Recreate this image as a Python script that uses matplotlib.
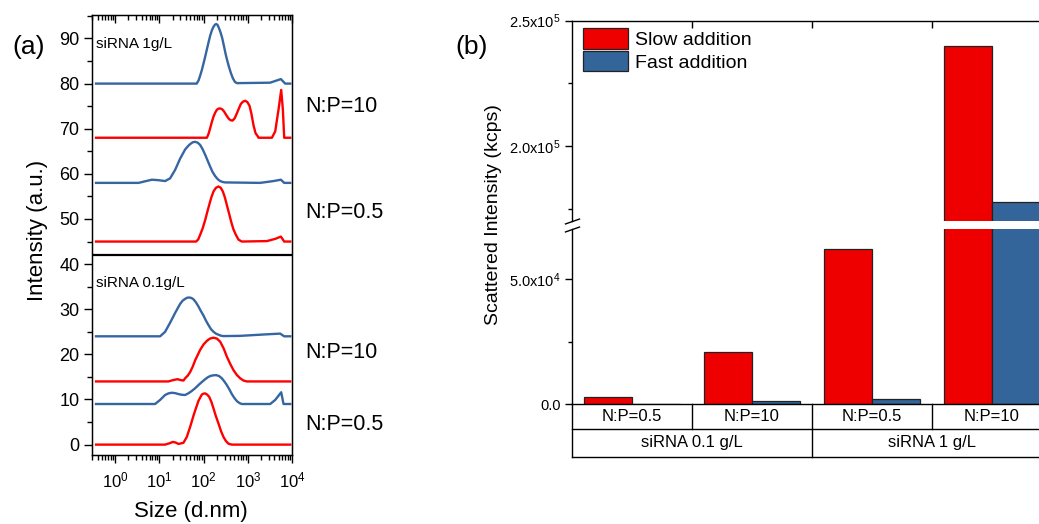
import matplotlib
matplotlib.use('Agg')
import matplotlib.pyplot as plt
import numpy as np
from matplotlib.ticker import MultipleLocator, LogLocator, NullFormatter

plt.rcParams['font.family'] = ['Liberation Sans', 'DejaVu Sans']
plt.rcParams['mathtext.default'] = 'regular'

# ---- panel (a): DLS size distributions (size in nm, intensity offset) ----
# siRNA 1 g/L, N:P=10
size_hi10_fast = [0.37, 70, 77, 84, 92, 100, 109, 119, 130, 141, 154, 168, 181, 193, 207, 221,
                  241, 264, 288, 313, 341, 373, 413, 459, 510, 566, 3200, 4550, 5600, 7000, 9100]
int_hi10_fast = [80, 80, 80.7, 81.8, 83.1, 84.5, 86.0, 87.6, 89.2, 90.6, 91.8, 92.6, 93.05, 93.2,
                 93.0, 92.4, 91.4, 90.1, 88.4, 86.7, 85.2, 83.8, 82.4, 81.2, 80.4, 80.1,
                 80.2, 80.7, 81.0, 80.0, 80.0]
size_hi10_slow = [0.37, 119, 130, 141, 154, 168, 184, 200, 218, 238, 264, 292, 327, 366, 405,
                  451, 505, 566, 630, 697, 780, 873, 980, 1093, 1210, 1345, 1500, 1660, 1750,
                  3510, 4170, 4950, 5700, 6220, 6660, 9100]
int_hi10_slow = [68, 68, 68.9, 70.1, 71.5, 72.7, 73.6, 74.2, 74.45, 74.5, 74.3, 73.8, 73.0, 72.3,
                 71.9, 71.8, 72.3, 73.4, 74.5, 75.5, 76.0, 76.2, 75.9, 75.1, 73.3, 70.8, 69.0,
                 68.4, 68, 68, 69.4, 74.2, 78.6, 74.2, 68, 68]
# siRNA 1 g/L, N:P=0.5
size_hi05_fast = [0.37, 3.4, 5.0, 6.8, 9.5, 13.5, 17.5, 22.8, 29.6, 38.3, 44, 49.8, 57, 64.6, 74,
                  83.8, 96, 109, 124, 141, 160, 183, 210, 238, 270, 308, 1900, 2700, 3800, 5600,
                  6660, 9100]
int_hi05_fast = [58, 58, 58.4, 58.7, 58.6, 58.4, 59.0, 60.9, 63.4, 65.4, 66.1, 66.6, 67.0, 67.1,
                 66.9, 66.4, 65.4, 64.2, 62.9, 61.6, 60.4, 59.5, 58.8, 58.4, 58.2, 58.1,
                 58, 58.2, 58.4, 58.7, 58, 58]
size_hi05_slow = [0.37, 68, 76, 83.8, 96, 109, 121, 134, 150, 168, 190, 217, 245, 273, 303, 336,
                  378, 421, 470, 537, 620, 735, 2700, 4200, 5600, 6660, 9100]
int_hi05_slow = [45, 45, 45.5, 46.5, 48.0, 49.8, 51.5, 53.1, 54.8, 56.1, 56.9, 57.2, 56.9, 56.1, 54.8,
                 53.1, 51.2, 49.4, 47.8, 46.5, 45.4, 45, 45.1, 45.6, 46.1, 45, 45]
# siRNA 0.1 g/L, N:P=10
size_lo10_fast = [0.37, 10.4, 13.5, 17.5, 22.8, 29.6, 33.7, 38.3, 42.5, 47.2, 53, 59.2, 67.5,
                  76.7, 87, 99.6, 113, 129, 147, 168, 190, 217, 245, 282, 673, 2270, 5400,
                  6660, 9100]
int_lo10_fast = [24, 24, 25.0, 27.0, 29.2, 31.2, 31.9, 32.3, 32.55, 32.6, 32.5, 32.2, 31.5,
                 30.6, 29.6, 28.6, 27.5, 26.5, 25.6, 25.0, 24.6, 24.35, 24.15, 24.05, 24.1,
                 24.4, 24.6, 24, 24]
size_lo10_slow = [0.37, 16.1, 20.5, 25.7, 30.5, 35.1, 38.3, 44, 49.8, 57, 64.6, 74, 83.8, 100,
                  119, 140, 168, 200, 238, 285, 336, 400, 475, 570, 673, 800, 953, 9100]
int_lo10_slow = [14, 14, 14.3, 14.5, 14.3, 14.2, 14.7, 15.3, 16.1, 17.3, 18.7, 19.9, 21.0, 22.2,
                 23.0, 23.5, 23.7, 23.5, 22.8, 21.3, 19.5, 17.9, 16.5, 15.4, 14.7, 14.2, 14, 14]
# siRNA 0.1 g/L, N:P=0.5
size_lo05_fast = [0.37, 8.0, 10.4, 13.5, 16, 19.2, 23, 27.1, 32, 38.3, 46, 54.3, 64.6, 76.7, 92,
                  109, 124, 141, 165, 193, 224, 259, 295, 336, 385, 436, 500, 566, 650, 735,
                  3213, 4170, 5700, 6430, 9100]
int_lo05_fast = [9, 9, 9.9, 11.0, 11.35, 11.5, 11.4, 11.2, 11.05, 11.0, 11.4, 11.9, 12.5, 13.2,
                 13.9, 14.5, 14.9, 15.2, 15.35, 15.4, 15.2, 14.7, 14.0, 13.2, 12.2, 11.2, 10.3,
                 9.65, 9.2, 9, 9, 9.9, 11.6, 9, 9]
size_lo05_slow = [0.37, 13.5, 17, 20.2, 23.5, 27.1, 35.1, 41.8, 49.8, 61.3, 76.7, 91.5, 100, 109,
                  120, 134, 150, 168, 190, 217, 248, 282, 320, 366, 436, 9100]
int_lo05_slow = [0, 0, 0.3, 0.6, 0.45, 0.15, 0.4, 1.7, 3.95, 6.9, 9.7, 11.1, 11.3, 11.35,
                 11.1, 10.6, 9.5, 8.0, 6.3, 4.7, 3.0, 1.7, 0.8, 0.2, 0, 0]

# ---- panel (b): scattered intensity (kcps) ----
np_labels = ['N:P=0.5', 'N:P=10', 'N:P=0.5', 'N:P=10']
conc_labels = ['siRNA 0.1 g/L', 'siRNA 1 g/L']
slow_add = [2.8e3, 2.1e4, 6.2e4, 2.40e5]
fast_add = [0.3e3, 1.2e3, 2.1e3, 1.775e5]

RED_LINE = '#FF0000'
BLUE_LINE = '#3566A2'
RED_BAR = '#EE0000'
BLUE_BAR = '#33659A'

W, H = 1039, 524
fig = plt.figure(figsize=(W / 100, H / 100), dpi=100)


def fx(x):
    return x / W


def fy(y):
    return 1 - y / H


# ================= panel (a) =================
ax = fig.add_axes([fx(92), fy(455), (292 - 92) / W, (455 - 15) / H])
curves = [
    (size_hi10_fast, int_hi10_fast, BLUE_LINE),
    (size_hi10_slow, int_hi10_slow, RED_LINE),
    (size_hi05_fast, int_hi05_fast, BLUE_LINE),
    (size_hi05_slow, int_hi05_slow, RED_LINE),
    (size_lo10_fast, int_lo10_fast, BLUE_LINE),
    (size_lo10_slow, int_lo10_slow, RED_LINE),
    (size_lo05_fast, int_lo05_fast, BLUE_LINE),
    (size_lo05_slow, int_lo05_slow, RED_LINE),
]
for s, v, c in curves:
    ax.plot(s, v, color=c, lw=1.7, solid_joinstyle='round')
ax.set_xscale('log')
ax.set_xlim(0.3, 1e4)
ax.set_ylim(-2.3, 95.2)
ax.axhline(42, color='k', lw=1.6)
ax.yaxis.set_major_locator(MultipleLocator(10))
ax.yaxis.set_minor_locator(MultipleLocator(5))
ax.xaxis.set_major_locator(LogLocator(base=10, numticks=12))
ax.xaxis.set_minor_locator(LogLocator(base=10, subs=np.arange(2, 10), numticks=12))
ax.xaxis.set_minor_formatter(NullFormatter())
ax.tick_params(which='major', direction='out', length=6, width=1, labelsize=13, pad=3)
ax.tick_params(which='minor', direction='out', length=3.5, width=1)
ax.tick_params(axis='x', labelsize=12, pad=5)
for sp in ax.spines.values():
    sp.set_linewidth(1.0)

axt = ax.twiny()
axt.set_xscale('log')
axt.set_xlim(ax.get_xlim())
axt.xaxis.set_major_locator(LogLocator(base=10, numticks=12))
axt.xaxis.set_minor_locator(LogLocator(base=10, subs=np.arange(2, 10), numticks=12))
axt.tick_params(which='major', direction='in', length=6, width=1, labeltop=False)
axt.tick_params(which='minor', direction='in', length=3.5, width=1)
axt.xaxis.set_minor_formatter(NullFormatter())

ax.text(0.02, 0.935, 'siRNA 1g/L', transform=ax.transAxes, fontsize=11, va='center')
ax.text(0.02, 0.39, 'siRNA 0.1g/L', transform=ax.transAxes, fontsize=11, va='center')

fig.text(fx(29), fy(47), '(a)', fontsize=19, ha='center', va='center')
fig.text(fx(37), fy(230), 'Intensity (a.u.)', rotation=90, fontsize=16, ha='center', va='center')
fig.text(fx(191), fy(512), 'Size (d.nm)', fontsize=16, ha='center', va='center')
for txt, yy in [('N:P=10', 107), ('N:P=0.5', 213), ('N:P=10', 352), ('N:P=0.5', 424)]:
    fig.text(fx(305), fy(yy), txt, fontsize=15.5, ha='left', va='center')

# ================= panel (b) =================
left_b, right_b = 572.3, 1051.5
ax_lo = fig.add_axes([fx(left_b), fy(404.3), (right_b - left_b) / W, (404.3 - 228.9) / H])
ax_hi = fig.add_axes([fx(left_b), fy(221.2), (right_b - left_b) / W, (221.2 - 20.7) / H])
xpos = np.arange(len(np_labels))
for a in (ax_lo, ax_hi):
    a.bar(xpos - 0.2, slow_add, 0.4, color=RED_BAR, edgecolor='#222222', lw=0.9,
          label='Slow addition')
    a.bar(xpos + 0.2, fast_add, 0.4, color=BLUE_BAR, edgecolor='#222222', lw=0.9,
          label='Fast addition')
    a.set_xlim(-0.5, 3.5)
    for sp in a.spines.values():
        sp.set_linewidth(1.0)
ax_lo.set_ylim(0, 7e4)
ax_hi.set_ylim(1.7e5, 2.5e5)
ax_lo.spines['top'].set_visible(False)
ax_hi.spines['bottom'].set_visible(False)

ax_lo.set_yticks([0, 5e4], ['0.0', r'5.0x10$^{4}$'])
ax_lo.set_yticks([2.5e4], minor=True)
ax_hi.set_yticks([2.0e5, 2.5e5], [r'2.0x10$^{5}$', r'2.5x10$^{5}$'])
ax_hi.set_yticks([1.75e5, 2.25e5], minor=True)
for a in (ax_lo, ax_hi):
    a.tick_params(axis='y', which='major', direction='out', length=5, width=1, labelsize=10.5)
    a.tick_params(axis='y', which='minor', direction='out', length=3, width=1)
ax_lo.tick_params(axis='x', bottom=False, labelbottom=False)
ax_hi.set_xticks([0.5, 1.5, 2.5])
ax_hi.tick_params(axis='x', bottom=False, labelbottom=False, top=True, labeltop=False,
                  direction='in', length=5, width=1)

# axis break marks
kw = dict(marker=[(-1, -0.35), (1, 0.35)], markersize=11, linestyle='none',
          color='k', mec='k', mew=1, clip_on=False)
ax_hi.plot([0], [0], transform=ax_hi.transAxes, **kw)
ax_lo.plot([0], [1], transform=ax_lo.transAxes, **kw)

# category table under the bars
tr = ax_lo.get_xaxis_transform()
r1 = -(429.3 - 404.3) / (404.3 - 228.9)
r2 = -(456.7 - 404.3) / (404.3 - 228.9)
line_kw = dict(color='k', lw=1.0, clip_on=False, transform=tr)
ax_lo.plot([-0.5, 3.5], [r1, r1], **line_kw)
ax_lo.plot([-0.5, 3.5], [r2, r2], **line_kw)
for xb in [-0.5, 3.5]:
    ax_lo.plot([xb, xb], [0, r2], **line_kw)
for xb in [0.5, 1.5, 2.5]:
    ax_lo.plot([xb, xb], [0, r1], **line_kw)
ax_lo.plot([1.5, 1.5], [r1, r2], **line_kw)
for i, lab in enumerate(np_labels):
    ax_lo.text(i, r1 / 2, lab, transform=tr, ha='center', va='center', fontsize=12)
for j, lab in enumerate(conc_labels):
    ax_lo.text(2 * j + 0.5, (r1 + r2) / 2, lab, transform=tr, ha='center', va='center',
               fontsize=12)

ax_hi.legend(loc='upper left', bbox_to_anchor=(11 / (right_b - left_b), 1 - 7.3 / 200.5),
             frameon=False, fontsize=14, handlelength=2.3, handleheight=1.25,
             labelspacing=0.1, handletextpad=0.35, borderpad=0, borderaxespad=0)

fig.text(fx(472), fy(47), '(b)', fontsize=19, ha='center', va='center')
fig.text(fx(493), fy(215), 'Scattered Intensity (kcps)', rotation=90, fontsize=14,
         ha='center', va='center')

fig.savefig('out.png', dpi=100)
